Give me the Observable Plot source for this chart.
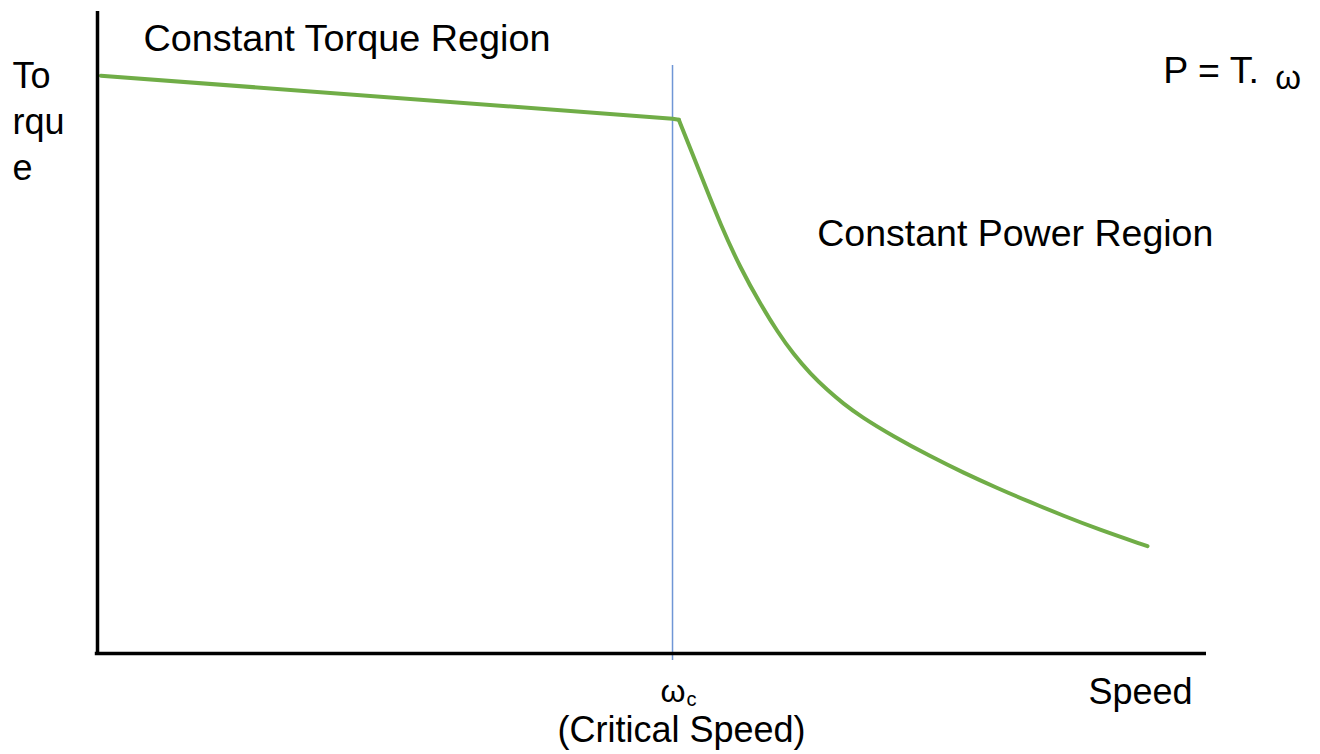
<!DOCTYPE html>
<html>
<head>
<meta charset="utf-8">
<script src="https://cdn.jsdelivr.net/npm/d3@7"></script>
<script src="https://cdn.jsdelivr.net/npm/@observablehq/plot@0.6"></script>
<style>
  html, body { margin: 0; padding: 0; background: #ffffff; }
  #chart svg { display: block; }
</style>
</head>
<body>
<div id="chart"></div>
<script>
// Speed (0–100 arbitrary units) and torque (0–100 arbitrary units)
const torqueRegionSpeed = [0.3, 51.85, 52.42];
const torqueRegionTorque = [90.0, 83.3, 83.13];
const powerRegionSpeed = [52.42, 53.47, 54.64, 56.18, 57.98, 59.78, 61.32, 62.76, 64.29, 65.83, 67.27, 68.80, 71.78, 75.11, 78.09, 81.15, 84.13, 87.11, 90.17, 94.68];
const powerRegionTorque = [83.13, 78.6, 73.5, 66.8, 60.0, 54.4, 50.1, 46.6, 43.55, 41.0, 38.9, 36.95, 33.8, 30.7, 28.15, 25.75, 23.55, 21.45, 19.4, 16.71];
const criticalSpeed = 51.85;
const labels = {
  yTitle: "To\nrqu\ne",
  xTitle: "Speed",
  torqueRegion: "Constant Torque Region",
  powerRegion: "Constant Power Region",
  formula: "P = T.",
  omega: "ω",
  omegaSub: "c",
  critical: "(Critical Speed)"
};

const torqueSeg = torqueRegionSpeed.map((s, i) => ({speed: s, torque: torqueRegionTorque[i]}));
const powerSeg = powerRegionSpeed.map((s, i) => ({speed: s, torque: powerRegionTorque[i]}));
const font = "Liberation Sans, Arial, sans-serif";
const green = "#70AD47";

const chart = Plot.plot({
  width: 1320,
  height: 754,
  marginLeft: 97,
  marginRight: 114,
  marginTop: 11,
  marginBottom: 101,
  style: {fontFamily: font, background: "#ffffff", overflow: "visible"},
  x: {domain: [0, 100], axis: null},
  y: {domain: [0, 100], axis: null},
  marks: [
    Plot.ruleX([criticalSpeed], {y1: -1.1, y2: 91.6, stroke: "#6f96d6", strokeWidth: 1.5}),
    Plot.line(torqueSeg, {x: "speed", y: "torque", stroke: green, strokeWidth: 4, strokeLinejoin: "miter", curve: "linear"}),
    Plot.line(powerSeg, {x: "speed", y: "torque", stroke: green, strokeWidth: 4, curve: "basis"}),
    Plot.ruleX([0], {y1: -0.3, y2: 100, stroke: "#000", strokeWidth: 3.5}),
    Plot.ruleY([0], {x1: -0.2, x2: 100, stroke: "#000", strokeWidth: 3.5}),
    Plot.text([labels.torqueRegion], {x: 4.15, y: 93.9, text: d => d, textAnchor: "start", lineAnchor: "bottom", fontSize: 37.8, fill: "#000"}),
    Plot.text([labels.yTitle], {x: -7.66, y: 73.7, text: d => d, textAnchor: "start", lineAnchor: "bottom", lineHeight: 1.28, fontSize: 36, fill: "#000"}),
    Plot.text([labels.formula], {x: 96.1, y: 88.9, text: d => d, textAnchor: "start", lineAnchor: "bottom", fontSize: 37.5, fill: "#000"}),
    Plot.text([labels.omega], {x: 106.2, y: 88.0, text: d => d, textAnchor: "start", lineAnchor: "bottom", fontSize: 33, fill: "#000"}),
    Plot.text([labels.powerRegion], {x: 64.9, y: 63.4, text: d => d, textAnchor: "start", lineAnchor: "bottom", fontSize: 37.5, fill: "#000"}),
    Plot.text([labels.omega], {x: 50.77, y: -7.63, text: d => d, textAnchor: "start", lineAnchor: "bottom", fontSize: 32, fill: "#000"}),
    Plot.text([labels.omegaSub], {x: 53.1, y: -8.1, text: d => d, textAnchor: "start", lineAnchor: "bottom", fontSize: 20, fill: "#000"}),
    Plot.text([labels.critical], {x: 52.66, y: -13.86, text: d => d, textAnchor: "middle", lineAnchor: "bottom", fontSize: 36, fill: "#000"}),
    Plot.text([labels.xTitle], {x: 89.36, y: -7.8, text: d => d, textAnchor: "start", lineAnchor: "bottom", fontSize: 36, fill: "#000"})
  ]
});
document.getElementById("chart").appendChild(chart);
</script>
</body>
</html>
